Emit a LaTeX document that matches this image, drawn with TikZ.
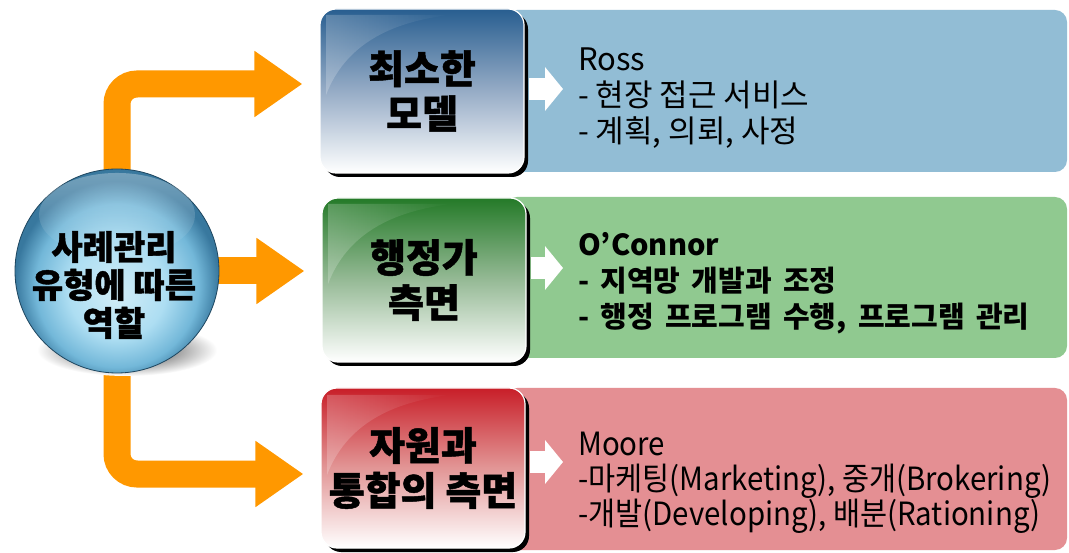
\documentclass[tikz,border=0pt]{standalone}
\usepackage{fontspec}
\newfontfamily\kr{Noto Sans CJK KR}
\newfontfamily\krw{Noto Sans CJK KR}[WordSpace=3]
\newfontfamily\krg{Noto Sans CJK KR}[WordSpace=1.7]
\newfontfamily\krh{Noto Sans CJK KR}[BoldFeatures={FakeBold=1.2}]
\newfontfamily\krn{Noto Sans CJK KR}[FakeStretch=0.92]
\usetikzlibrary{arrows.meta,shadows,fadings}
\definecolor{org}{RGB}{255,152,0}
\definecolor{pblue}{RGB}{146,189,213}
\definecolor{pgreen}{RGB}{144,201,144}
\definecolor{pred}{RGB}{228,143,147}
\definecolor{bbTop}{RGB}{40,94,144}
\definecolor{bbMid}{RGB}{150,172,198}
\definecolor{bgTop}{RGB}{36,122,40}
\definecolor{bgMid}{RGB}{150,186,150}
\definecolor{brTop}{RGB}{200,30,40}
\definecolor{brMid}{RGB}{226,150,150}
\definecolor{rim}{RGB}{30,70,95}
\pgfdeclareradialshading{sphere}{\pgfpoint{0bp}{-6bp}}{rgb(0bp)=(0.82,0.93,0.97);rgb(12bp)=(0.68,0.87,0.95);rgb(20bp)=(0.45,0.72,0.85);rgb(25bp)=(0.22,0.47,0.62);rgb(50bp)=(0.22,0.47,0.62)}
\begin{document}
\begin{tikzpicture}[x=1pt,y=-1pt,
  panel/.style={rounded corners=12pt, minimum width=562pt, minimum height=162pt, inner sep=0pt},
  lbox/.style={rounded corners=16pt, minimum width=204pt, minimum height=164pt, draw=white, line width=1.2pt, align=center, inner sep=0pt, font=\krh\bfseries\fontsize{39pt}{45pt}\selectfont, general shadow={fill=black, shadow xshift=4pt, shadow yshift=-4pt}},
  gloss/.style={fill=white, fill opacity=0.22, path fading=east},
  ptext/.style={anchor=west, align=left, inner sep=0pt},
  oarrow/.style={draw=org, line width=27pt, rounded corners=20pt, -{Triangle[length=48pt,width=63pt]}, shorten >=17pt},
  warrow/.style={draw=white, line width=22pt, -{Triangle[length=18pt,width=43pt]}, shorten <=4pt, shorten >=15pt},
]
\useasboundingbox (0,0) rectangle (1069,553);
\fill[white] (0,0) rectangle (1069,553);
% right panels
\node[panel, fill=pblue] (p1) at (786,91) {};
\node[panel, fill=pgreen, minimum height=161pt] (p2) at (786,277.5) {};
\node[panel, fill=pred] (p3) at (786,469) {};
% panel texts
\node[ptext, font=\krw\fontsize{31pt}{36pt}\selectfont] (t1) at (578,98) {Ross\\- 현장 접근 서비스\\- 계획, 의뢰, 사정};
\node[ptext, font=\krg\bfseries\fontsize{29pt}{36pt}\selectfont] (t2) at (578,283) {O’Connor\\- 지역망 개발과 조정\\- 행정 프로그램 수행, 프로그램 관리};
\node[ptext, font=\krn\fontsize{32pt}{35pt}\selectfont] (t3) at (578,483) {Moore\\-마케팅(Marketing), 중개(Brokering)\\-개발(Developing), 배분(Rationing)};
% left boxes
\node[lbox, top color=bbTop, bottom color=white, middle color=bbMid] (b1) at (422,91) {최소한\\모델};
\node[lbox, top color=bgTop, bottom color=white, middle color=bgMid] (b2) at (424,280) {행정가\\측면};
\node[lbox, top color=brTop, bottom color=white, middle color=brMid, minimum height=160pt] (b3) at (423,468) {자원과\\통합의 측면};
% gloss on boxes
\foreach \dx/\dy in {0/0, 2/189, 1/380}{
  \fill[gloss, shift={(\dx,\dy)}] (326,15) -- (450,15) .. controls (390,22) and (345,45) .. (326,95) -- cycle;
}
% white arrows
\coordinate (w1) at (578,89);
\coordinate (w2) at (578,268);
\coordinate (w3) at (578,462);
\draw[warrow] (b1.east |- w1) -- (w1);
\draw[warrow] (b2.east |- w2) -- (w2);
\draw[warrow] (b3.east |- w3) -- (w3);
% orange arrows
\coordinate (cc) at (117,271);
\draw[oarrow] (cc) |- ([yshift=7pt]b1.west);
\draw[oarrow] (cc) -- (cc -| b2.west);
\draw[oarrow] (cc) |- ([yshift=-6pt]b3.west);
% sphere
\shade[inner color=black!85, outer color=white] (127,350) ellipse [x radius=90pt, y radius=26pt];
\node[circle, minimum size=204pt, inner sep=0pt, shading=sphere, draw=rim, line width=0.8pt] (circ) at (cc) {};
\fill[white, fill opacity=0.3, path fading=south] (117,215) ellipse [x radius=78pt, y radius=42pt];
\node[font=\krh\bfseries\fontsize{34pt}{38pt}\selectfont, align=center, inner sep=0pt] (ctext) at ([xshift=-3pt,yshift=-14pt]circ.center) {사례관리\\유형에 따른\\역할};
\end{tikzpicture}
\end{document}
